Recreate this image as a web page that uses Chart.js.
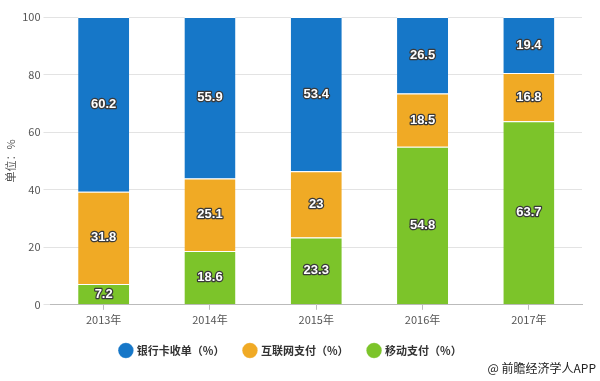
<!DOCTYPE html>
<html>
<head>
<meta charset="utf-8">
<script src="https://cdn.jsdelivr.net/npm/chart.js@4"></script>
<style>
  html, body { margin: 0; padding: 0; background: #fff; }
  #wrap { position: relative; width: 600px; height: 381px; }
  #credit { position: absolute; right: 4px; top: 360px; font: 12px "Noto Sans CJK SC", sans-serif; color: #222; line-height: 16px; }
</style>
</head>
<body>
<div id="wrap">
  <canvas id="c" width="600" height="381"></canvas>
  <div id="credit">@ 前瞻经济学人APP</div>
</div>
<script>
const categories = ['2013年', '2014年', '2015年', '2016年', '2017年'];
const mobilePay = [7.2, 18.6, 23.3, 54.8, 63.7];
const internetPay = [31.8, 25.1, 23, 18.5, 16.8];
const bankCard = [60.2, 55.9, 53.4, 26.5, 19.4];
const seriesNames = ['银行卡收单（%）', '互联网支付（%）', '移动支付（%）'];
const yTicks = [0, 20, 40, 60, 80, 100];
const yTitle = '单位：%';

const FONT = '"Noto Sans CJK SC", "DejaVu Sans", sans-serif';

// percent stacking: each column is scaled to its own total (as in the source chart)
const totals = categories.map((_, i) => mobilePay[i] + internetPay[i] + bankCard[i]);
const toShare = arr => arr.map((v, i) => v / totals[i] * 100);

const valueLabels = {
  id: 'valueLabels',
  afterDatasetsDraw(chart) {
    const ctx = chart.ctx;
    ctx.save();
    ctx.font = 'bold 13px "Liberation Sans", Arial, sans-serif';
    ctx.textAlign = 'center';
    ctx.textBaseline = 'middle';
    ctx.lineJoin = 'round';
    chart.data.datasets.forEach((ds, di) => {
      const meta = chart.getDatasetMeta(di);
      meta.data.forEach((el, i) => {
        const p = el.getProps(['x', 'y', 'base'], true);
        const y = (p.y + p.base) / 2;
        const t = String(ds.raw[i]);
        ctx.lineWidth = 2.5;
        ctx.strokeStyle = '#3a3a3a';
        ctx.strokeText(t, p.x, y);
        ctx.fillStyle = '#fff';
        ctx.fillText(t, p.x, y);
      });
    });
    ctx.restore();
  }
};

new Chart(document.getElementById('c'), {
  type: 'bar',
  data: {
    labels: categories,
    datasets: [
      { label: seriesNames[2], raw: mobilePay, data: toShare(mobilePay), backgroundColor: '#7cc42a' },
      { label: seriesNames[1], raw: internetPay, data: toShare(internetPay), backgroundColor: '#f0aa25' },
      { label: seriesNames[0], raw: bankCard, data: toShare(bankCard), backgroundColor: '#1677c8' }
    ].map(d => Object.assign(d, {
      borderColor: '#ffffff',
      borderWidth: { top: 1, bottom: 0, left: 0, right: 0 },
      borderSkipped: false,
      barPercentage: 0.48,
      categoryPercentage: 1
    }))
  },
  options: {
    responsive: false,
    animation: false,
    devicePixelRatio: 1,
    layout: { padding: { top: 17, right: 18, bottom: 15, left: 0 } },
    plugins: {
      tooltip: { enabled: false },
      legend: {
        position: 'bottom',
        reverse: true,
        labels: {
          usePointStyle: true,
          pointStyle: 'circle',
          boxWidth: 11,
          boxHeight: 11,
          padding: 20,
          color: '#333',
          font: { family: FONT, size: 11, weight: 'bold' }
        }
      }
    },
    scales: {
      x: {
        stacked: true,
        afterFit(scale) { scale.height -= 4; },
        grid: { display: true, drawOnChartArea: false, offset: false, tickLength: 5, color: '#bbb' },
        border: { display: true, color: '#bbb' },
        ticks: { color: '#555', padding: 3, font: { family: FONT, size: 11 } }
      },
      y: {
        stacked: true,
        min: 0,
        max: 100,
        afterFit(scale) { scale.width -= 2; },
        afterBuildTicks(axis) { axis.ticks = yTicks.map(v => ({ value: v })); },
        grid: { color: '#e3e3e3', tickLength: 7 },
        border: { display: false },
        ticks: { color: '#555', padding: 3, font: { family: FONT, size: 11 } },
        title: { display: true, text: yTitle, color: '#555', font: { family: FONT, size: 11 } }
      }
    }
  },
  plugins: [valueLabels]
});
</script>
</body>
</html>
